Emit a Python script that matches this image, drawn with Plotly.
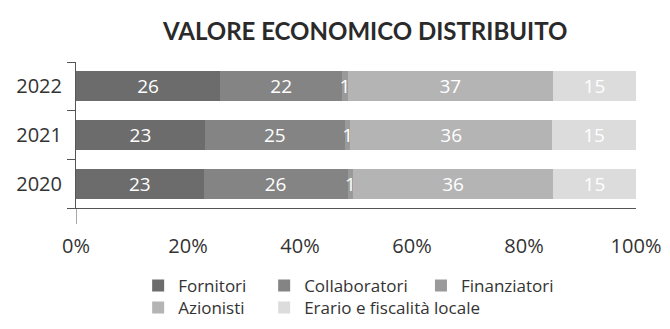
import plotly.graph_objects as go

# Economic value distributed, by stakeholder group (percent of total)
years = ["2020", "2021", "2022"]
groups = ["Fornitori", "Collaboratori", "Finanziatori", "Azionisti", "Erario e fiscalità locale"]
fornitori = [23, 23, 26]
collaboratori = [26, 25, 22]
finanziatori = [1, 1, 1]
azionisti = [36, 36, 37]
erario = [15, 15, 15]
x_ticks = [0, 20, 40, 60, 80, 100]
x_tick_labels = ["0%", "20%", "40%", "60%", "80%", "100%"]

series = [fornitori, collaboratori, finanziatori, azionisti, erario]
colors = ["#6c6c6c", "#848484", "#9a9a9a", "#b4b4b4", "#dcdcdc"]

# one legend box per entry, laid out as a 3 + 2 grid under the axis
legend_ids = ["legend", "legend2", "legend3", "legend4", "legend5"]
legend_x = [0.111, 0.336, 0.616, 0.111, 0.336]
legend_y = [-0.534, -0.534, -0.534, -0.685, -0.685]

FONT = "Open Sans, sans-serif"

fig = go.Figure()
for name, vals, col, lg in zip(groups, series, colors, legend_ids):
    fig.add_trace(go.Bar(
        y=years, x=vals, name=name, orientation="h",
        marker=dict(color=col, line=dict(width=0)),
        text=[str(v) for v in vals], textposition="inside",
        insidetextanchor="middle", textangle=0, constraintext="none",
        textfont=dict(color="white", size=19, family=FONT),
        legend=lg, hoverinfo="skip",
    ))

legend_layout = {}
for lg, lx, ly in zip(legend_ids, legend_x, legend_y):
    legend_layout[lg] = dict(
        orientation="v", bgcolor="rgba(0,0,0,0)", borderwidth=0,
        font=dict(size=17, family=FONT, color="#333333"),
        x=lx, xanchor="left", y=ly, yanchor="middle",
        itemclick=False, itemdoubleclick=False,
    )

fig.update_layout(
    width=670, height=329,
    margin=dict(l=76, r=34, t=62, b=121, autoexpand=False),
    paper_bgcolor="white", plot_bgcolor="white",
    barmode="stack", barnorm="percent", bargap=0.38,
    showlegend=True,
    title=dict(text="<b>VALORE ECONOMICO DISTRIBUITO</b>", x=0.545, xanchor="center",
               y=0.905, yanchor="middle", xref="container", yref="container",
               font=dict(size=24, family="Lato, sans-serif", color="#2a2a2a")),
    xaxis=dict(range=[0, 100], tickvals=x_ticks, ticktext=x_tick_labels,
               showgrid=False, zeroline=False, showline=True, linecolor="#555555",
               linewidth=1, ticks="", ticklabelstandoff=20,
               tickfont=dict(size=20, family=FONT, color="#333333")),
    yaxis=dict(showgrid=False, zeroline=False, showline=True, linecolor="#555555",
               linewidth=1, ticks="outside", tickson="boundaries", ticklen=8,
               tickcolor="#555555", ticklabelstandoff=9,
               tickfont=dict(size=20, family=FONT, color="#333333")),
    **legend_layout,
)

# vertical axis line continues a little below the horizontal axis
fig.add_shape(type="line", xref="x", yref="paper", x0=0, x1=0, y0=0, y1=-0.11,
              line=dict(color="#555555", width=1))

fig.write_html("out.html")
